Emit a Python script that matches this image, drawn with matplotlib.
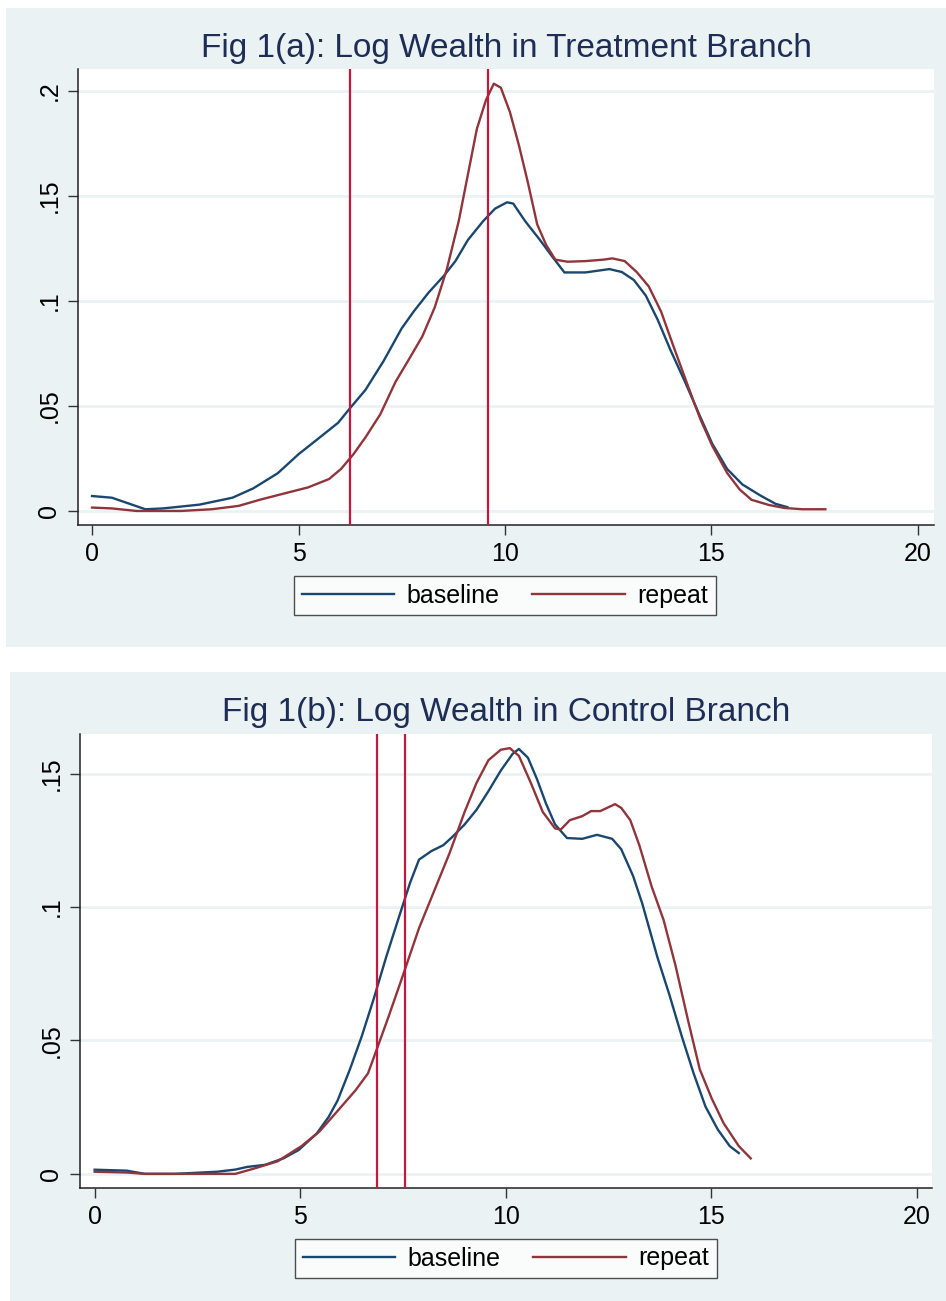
import numpy as np
import matplotlib.pyplot as plt
from matplotlib.patches import Rectangle

plt.rcParams['font.family'] = ['Liberation Sans', 'DejaVu Sans']

# ---- data ----
# Fig 1(a): treatment branch
a_base_x = [0, 0.48, 1.29, 1.72, 2.6, 3.4, 3.9, 4.5, 5.0, 5.45, 5.96, 6.25, 6.62, 7.06, 7.5,
            7.79, 8.15, 8.52, 8.8, 9.1, 9.47, 9.76, 10.05, 10.2, 10.49, 10.85, 11.15, 11.44,
            11.95, 12.24, 12.53, 12.83, 13.12, 13.41, 13.7, 14.0, 14.36, 14.73, 15.02, 15.38,
            15.75, 16.19, 16.55, 16.84]
a_base_y = [0.0071, 0.0063, 0.0008, 0.0012, 0.003, 0.0063, 0.0107, 0.018, 0.027, 0.034, 0.042,
            0.049, 0.0576, 0.0714, 0.087, 0.095, 0.104, 0.112, 0.119, 0.129, 0.138, 0.144, 0.147,
            0.1464, 0.138, 0.129, 0.121, 0.1136, 0.1136, 0.1144, 0.1152, 0.1138, 0.11, 0.1026,
            0.091, 0.077, 0.0615, 0.0448, 0.032, 0.020, 0.0126, 0.0073, 0.0034, 0.0018]
a_rep_x = [0, 0.48, 1.07, 2.16, 2.9, 3.55, 4.06, 4.65, 5.23, 5.74, 6.03, 6.33, 6.62, 6.98, 7.35,
           7.71, 8.0, 8.3, 8.59, 8.88, 9.1, 9.32, 9.54, 9.73, 9.9, 10.12, 10.34, 10.56, 10.78,
           11.0, 11.22, 11.51, 11.95, 12.39, 12.6, 12.9, 13.19, 13.48, 13.78, 14.07, 14.43,
           14.73, 15.02, 15.38, 15.68, 15.97, 16.4, 16.77, 17.2, 17.76]
a_rep_y = [0.0016, 0.0012, 0.0, 0.0, 0.0008, 0.0024, 0.0053, 0.0083, 0.0112, 0.0152, 0.020, 0.027,
           0.035, 0.046, 0.0615, 0.0734, 0.0832, 0.097, 0.115, 0.138, 0.160, 0.182, 0.1957, 0.2035,
           0.2016, 0.190, 0.174, 0.156, 0.1365, 0.1266, 0.1197, 0.1187, 0.119, 0.1197, 0.1203,
           0.119, 0.1138, 0.107, 0.095, 0.079, 0.0596, 0.0438, 0.031, 0.0181, 0.0103, 0.0053,
           0.0028, 0.0014, 0.0008, 0.0008]
a_vlines = [6.24, 9.58]

# Fig 1(b): control branch
b_base_x = [0, 0.78, 1.22, 1.95, 2.98, 3.42, 3.71, 4.15, 4.59, 4.96, 5.4, 5.69, 5.91, 6.21, 6.5,
            6.79, 7.09, 7.38, 7.67, 7.89, 8.19, 8.48, 8.7, 9.0, 9.29, 9.58, 9.88, 10.17, 10.32,
            10.54, 10.76, 10.98, 11.2, 11.49, 11.86, 12.22, 12.59, 12.81, 13.1, 13.32, 13.69,
            13.98, 14.28, 14.57, 14.86, 15.16, 15.45, 15.67]
b_base_y = [0.00156, 0.0012, 0, 0, 0.0008, 0.0016, 0.0026, 0.0034, 0.0058, 0.0089, 0.0151, 0.0213,
            0.0275, 0.0392, 0.0517, 0.0657, 0.0812, 0.0952, 0.109, 0.1178, 0.121, 0.1232, 0.1263,
            0.131, 0.1365, 0.1435, 0.1512, 0.1575, 0.1593, 0.156, 0.148, 0.1388, 0.131, 0.1259,
            0.1256, 0.1271, 0.1256, 0.1217, 0.1116, 0.1014, 0.0812, 0.0672, 0.0517, 0.0377,
            0.0252, 0.0166, 0.0104, 0.0078]
b_rep_x = [0, 0.78, 1.22, 3.42, 3.86, 4.45, 5.03, 5.47, 5.91, 6.35, 6.65, 6.87, 7.16, 7.53, 7.89,
           8.26, 8.63, 9.0, 9.29, 9.58, 9.88, 10.1, 10.32, 10.61, 10.9, 11.2, 11.34, 11.56, 11.86,
           12.08, 12.3, 12.52, 12.66, 12.81, 13.03, 13.25, 13.55, 13.84, 14.13, 14.43, 14.72,
           15.01, 15.3, 15.67, 15.96]
b_rep_y = [0.0008, 0.0005, 0, 0, 0.0019, 0.0047, 0.0104, 0.0159, 0.0236, 0.0314, 0.0377, 0.047,
           0.0594, 0.0758, 0.0921, 0.1061, 0.1201, 0.1357, 0.1466, 0.1551, 0.159, 0.1596, 0.1567,
           0.1466, 0.1357, 0.1295, 0.1291, 0.1326, 0.1341, 0.136, 0.136, 0.1376, 0.1386, 0.1372,
           0.1326, 0.1232, 0.1077, 0.0952, 0.0781, 0.0579, 0.0392, 0.0283, 0.019, 0.0104, 0.0058]
b_vlines = [6.87, 7.56]

x_ticks = [0, 5, 10, 15, 20]
a_yticks = [0, 0.05, 0.1, 0.15, 0.2]
a_ylabels = ['0', '.05', '.1', '.15', '.2']
b_yticks = [0, 0.05, 0.1, 0.15]
b_ylabels = ['0', '.05', '.1', '.15']

titles = ['Fig 1(a): Log Wealth in Treatment Branch', 'Fig 1(b): Log Wealth in Control Branch']
labels = ['baseline', 'repeat']

# ---- styling ----
W, H = 946, 1301
bg = '#eaf2f3'
c_base = '#1a476f'
c_rep = '#90353b'
c_vline = '#c8173e'
c_title = '#1e2d55'

fig = plt.figure(figsize=(W / 100, H / 100), dpi=100)


def px_rect(x0, y0, x1, y1):
    # pixel box (top-left origin) -> figure fractions [left, bottom, width, height]
    return [x0 / W, 1 - y1 / H, (x1 - x0) / W, (y1 - y0) / H]


# panel backgrounds (behind the axes)
for box in [(6, 8, 946, 647), (10, 672, 946, 1301)]:
    l, b, w, h = px_rect(*box)
    fig.patches.append(Rectangle((l, b), w, h, transform=fig.transFigure,
                                 facecolor=bg, edgecolor='none', zorder=-5))

panels = [
    dict(rect=(78, 69, 934, 525), xlim=(-0.34, 20.39), ylim=(-0.0067, 0.2105),
         base=(a_base_x, a_base_y), rep=(a_rep_x, a_rep_y), vl=a_vlines,
         yt=a_yticks, yl=a_ylabels, title=titles[0], title_y=48, leg=(293, 574, 717, 617)),
    dict(rect=(80, 734, 932, 1188), xlim=(-0.357, 20.37), ylim=(-0.0053, 0.1649),
         base=(b_base_x, b_base_y), rep=(b_rep_x, b_rep_y), vl=b_vlines,
         yt=b_yticks, yl=b_ylabels, title=titles[1], title_y=713, leg=(295, 1238, 717, 1279)),
]

for p in panels:
    ax = fig.add_axes(px_rect(*p['rect']))
    ax.set_zorder(1)
    ax.set_facecolor('white')
    ax.set_xlim(*p['xlim'])
    ax.set_ylim(*p['ylim'])

    for yv in p['yt']:
        ax.axhline(yv, color=bg, lw=2, zorder=1)

    lb, = ax.plot(*p['base'], color=c_base, lw=1.7, zorder=3)
    lr, = ax.plot(*p['rep'], color=c_rep, lw=1.7, zorder=3)
    for xv in p['vl']:
        ax.axvline(xv, color=c_vline, lw=1.6, zorder=4)

    ax.set_xticks(x_ticks)
    ax.set_xticklabels([str(t) for t in x_ticks])
    ax.set_yticks(p['yt'])
    ax.set_yticklabels(p['yl'], rotation=90, va='center')
    ax.tick_params(axis='both', direction='out', length=7, width=1, color='#333333',
                   labelsize=18, labelcolor='black')
    ax.tick_params(axis='x', pad=5)
    ax.tick_params(axis='y', pad=5)

    for s in ['top', 'right']:
        ax.spines[s].set_visible(False)
    for s in ['left', 'bottom']:
        ax.spines[s].set_linewidth(1.1)
        ax.spines[s].set_color('#222222')

    cx = (p['rect'][0] + p['rect'][2]) / 2 / W
    fig.text(cx, 1 - p['title_y'] / H, p['title'], ha='center', va='center',
             fontsize=24, color=c_title, zorder=2)

    lx0, ly0, lx1, ly1 = p['leg']
    leg = ax.legend([lb, lr], labels, ncol=2, loc='center',
                    bbox_to_anchor=((lx0 + lx1) / 2 / W, 1 - (ly0 + ly1) / 2 / H),
                    bbox_transform=fig.transFigure, fontsize=18, frameon=True,
                    fancybox=False, edgecolor='#222222', handlelength=3.7,
                    handletextpad=0.5, columnspacing=1.3, borderpad=0.3,
                    borderaxespad=0)
    leg.get_frame().set_linewidth(1)
    leg.get_frame().set_facecolor('white')

fig.savefig('out.png', dpi=100, facecolor='white')
